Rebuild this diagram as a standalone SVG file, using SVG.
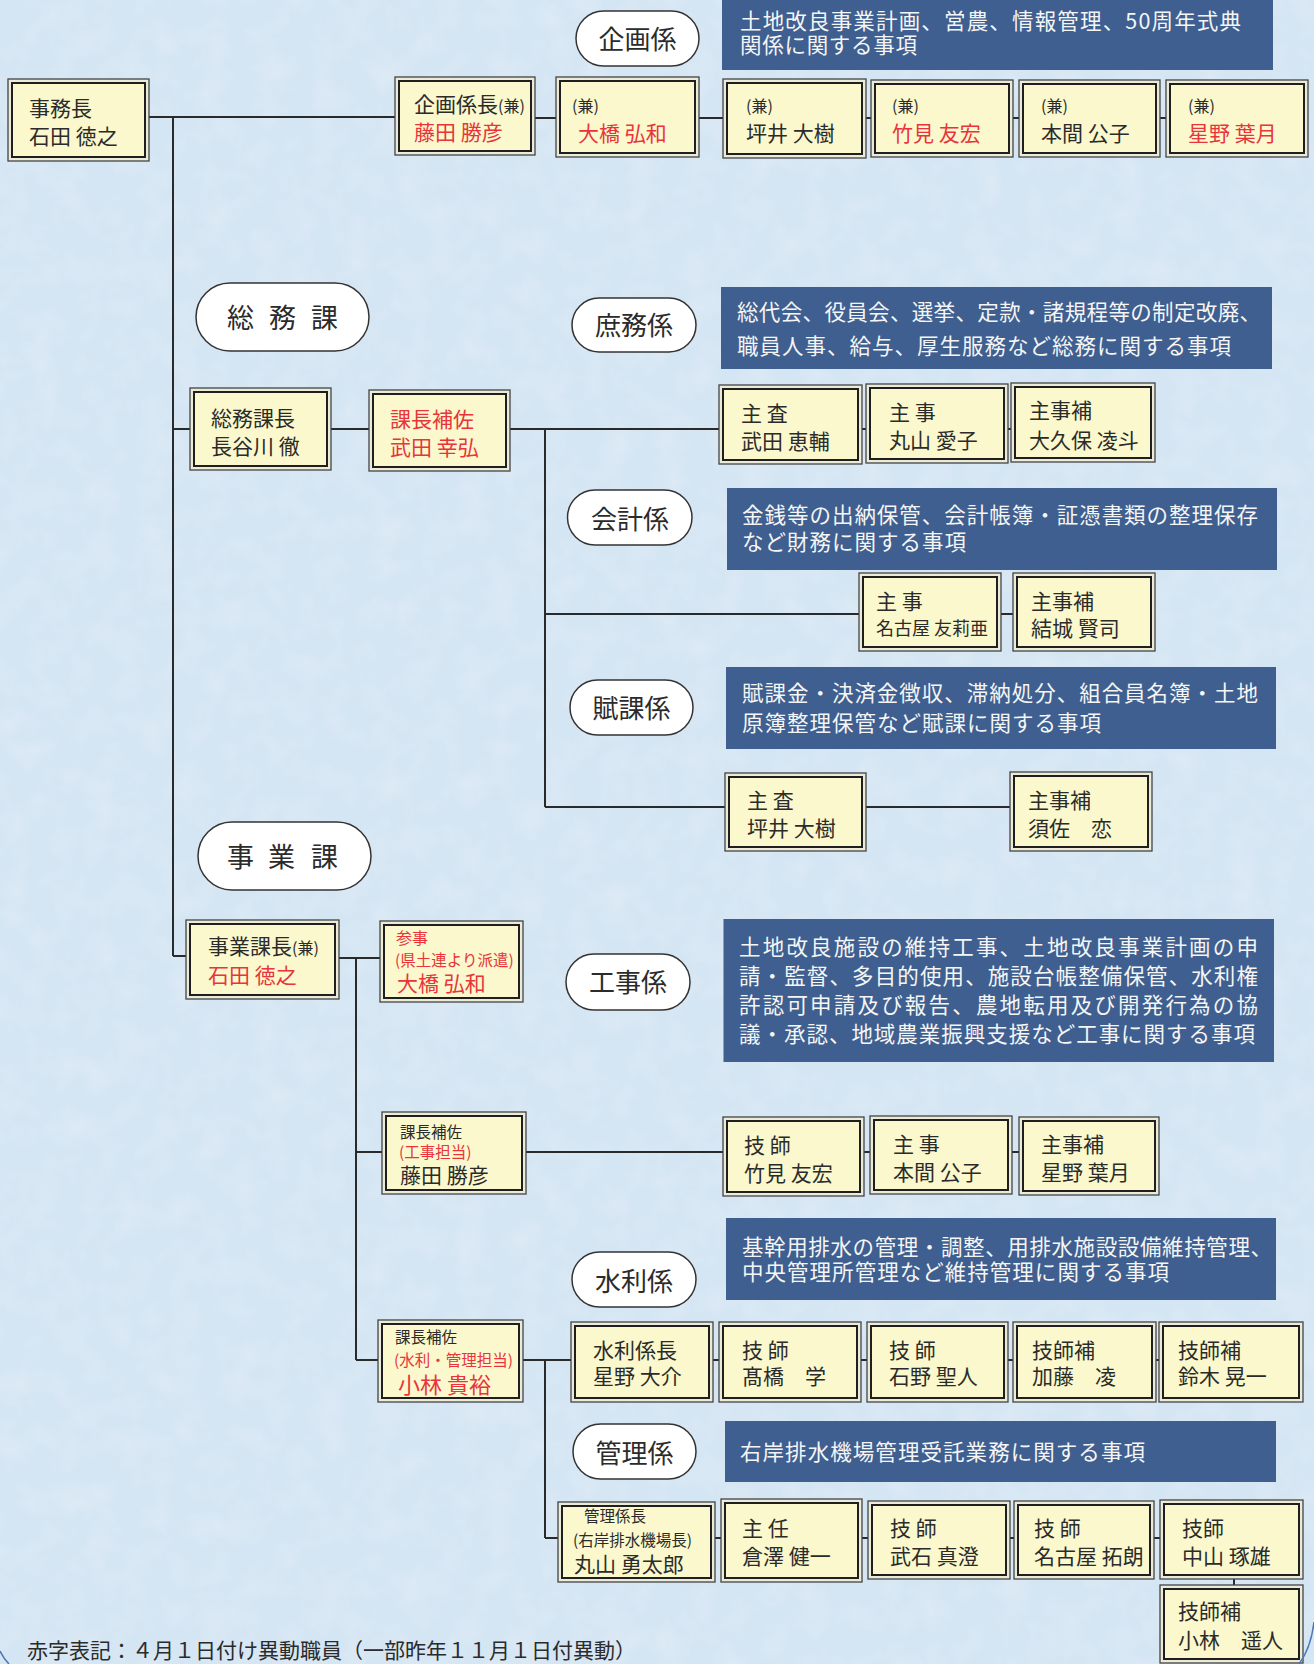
<svg xmlns="http://www.w3.org/2000/svg" width="1314" height="1664" viewBox="0 0 1314 1664">
<defs>
<style>
.bo{fill:#ecebda;stroke:#444;stroke-width:1.3}
.bi{fill:#faf8cc;stroke:#1f1f1f;stroke-width:2}
text{font-family:"Noto Sans CJK JP","Noto Sans CJK SC",sans-serif}
.t{font-size:21px;fill:#2b2b2b}
.r{fill:#e8343a}
.s{font-size:15.5px}
.k{font-size:16px}
.ov{fill:#ffffff;stroke:#333;stroke-width:1.5}
.ot{font-size:26px;fill:#2b2b2b;text-anchor:middle}
.bt{font-size:27px;fill:#2b2b2b}
.d{fill:#3e5f8f}
.dt{font-size:21.5px;fill:#f5f5f5}
.c{stroke:#2a2a2a;stroke-width:2;fill:none}
</style>
<filter id="tex" x="0" y="0" width="100%" height="100%">
<feTurbulence type="fractalNoise" baseFrequency="0.035" numOctaves="3" seed="4"/>
<feColorMatrix type="matrix" values="0 0 0 0 1  0 0 0 0 1  0 0 0 0 1  0 0 0 0.5 -0.18"/>
</filter>
</defs>
<rect width="1314" height="1664" fill="#d4e5f3"/>
<rect width="1314" height="1664" filter="url(#tex)" opacity="0.7"/>

<g id="connectors">
<path class="c" d="M149 117H395 M173 117V956 M173 429H190 M173 956H186 M535 118H556 M699 118H723 M866 118H871 M1013 118H1019 M1160 118H1166 M331 429H369 M510 429H719 M862 429H866 M1008 429H1011 M545 429V807 M545 614H859 M1001 614H1013 M545 807H725 M866 807H1010 M339 958H380 M356 958V1360 M356 1152H382 M526 1152H723 M864 1152H870 M1012 1152H1019 M356 1360H378 M523 1360H571 M545 1360V1538 M545 1538H558 M713 1360H719 M861 1360H867 M1008 1360H1013 M1156 1360H1159 M715 1538H721 M862 1538H868 M1010 1538H1014 M1154 1538H1160 M1234 1579V1585"/>
</g>

<!-- section ovals -->
<g id="oval-kikaku"><rect class="ov" x="576" y="11" width="123" height="55" rx="27.5"/><text class="ot" x="637.5" y="49">企画係</text></g>
<g id="oval-somuka"><rect class="ov" x="196" y="283" width="173" height="68" rx="34"/><text class="bt" x="227 269 311" y="328">総務課</text></g>
<g id="oval-shomu"><rect class="ov" x="572" y="298" width="124" height="54" rx="27"/><text class="ot" x="634" y="335">庶務係</text></g>
<g id="oval-kaikei"><rect class="ov" x="567.5" y="490" width="124.5" height="55" rx="27.5"/><text class="ot" x="630" y="529">会計係</text></g>
<g id="oval-fuka"><rect class="ov" x="570" y="680" width="123" height="55" rx="27.5"/><text class="ot" x="631.5" y="718">賦課係</text></g>
<g id="oval-jigyoka"><rect class="ov" x="198" y="822" width="173" height="68" rx="34"/><text class="bt" x="227 268 311" y="867">事業課</text></g>
<g id="oval-koji"><rect class="ov" x="566" y="954" width="124" height="56" rx="28"/><text class="ot" x="628" y="992">工事係</text></g>
<g id="oval-suiri"><rect class="ov" x="572" y="1252" width="124" height="55" rx="27.5"/><text class="ot" x="634" y="1291">水利係</text></g>
<g id="oval-kanri"><rect class="ov" x="573" y="1424" width="123" height="55" rx="27.5"/><text class="ot" x="634.5" y="1463">管理係</text></g>

<!-- description boxes -->
<g id="desc-kikaku"><rect class="d" x="722" y="0" width="551" height="70"/>
<text class="dt" x="740" y="29" textLength="501">土地改良事業計画、営農、情報管理、50周年式典</text>
<text class="dt" x="740" y="53" textLength="177">関係に関する事項</text></g>
<g id="desc-shomu"><rect class="d" x="721" y="287" width="551" height="82"/>
<text class="dt" x="737" y="319.5" textLength="524">総代会、役員会、選挙、定款・諸規程等の制定改廃、</text>
<text class="dt" x="737" y="353.5" textLength="494">職員人事、給与、厚生服務など総務に関する事項</text></g>
<g id="desc-kaikei"><rect class="d" x="727" y="488" width="550" height="82"/>
<text class="dt" x="742" y="523" textLength="516">金銭等の出納保管、会計帳簿・証憑書類の整理保存</text>
<text class="dt" x="742" y="549.5" textLength="224">など財務に関する事項</text></g>
<g id="desc-fuka"><rect class="d" x="726" y="667" width="550" height="82"/>
<text class="dt" x="742" y="701" textLength="516">賦課金・決済金徴収、滞納処分、組合員名簿・土地</text>
<text class="dt" x="742" y="731" textLength="359">原簿整理保管など賦課に関する事項</text></g>
<g id="desc-koji"><rect class="d" x="723.5" y="919" width="550.5" height="143"/>
<text class="dt" x="739" y="955" textLength="519">土地改良施設の維持工事、土地改良事業計画の申</text>
<text class="dt" x="739" y="984" textLength="519">請・監督、多目的使用、施設台帳整備保管、水利権</text>
<text class="dt" x="739" y="1013" textLength="519">許認可申請及び報告、農地転用及び開発行為の協</text>
<text class="dt" x="739" y="1042" textLength="516">議・承認、地域農業振興支援など工事に関する事項</text></g>
<g id="desc-suiri"><rect class="d" x="726" y="1218" width="550" height="82"/>
<text class="dt" x="742" y="1255" textLength="530">基幹用排水の管理・調整、用排水施設設備維持管理、</text>
<text class="dt" x="742" y="1280" textLength="427">中央管理所管理など維持管理に関する事項</text></g>
<g id="desc-kanri"><rect class="d" x="725" y="1421" width="551" height="61"/>
<text class="dt" x="740" y="1460" textLength="405">右岸排水機場管理受託業務に関する事項</text></g>

<!-- nodes -->
<g id="n-jimucho"><rect class="bo" x="8" y="79" width="141" height="82"/><rect class="bi" x="12" y="83" width="133" height="74"/>
<text class="t" x="29" y="116">事務長</text><text class="t" x="29" y="144">石田 徳之</text></g>
<g id="n-kikaku-cho"><rect class="bo" x="395" y="77" width="140" height="78"/><rect class="bi" x="399" y="81" width="132" height="70"/>
<text class="t" x="414" y="112">企画係長<tspan class="k">(兼)</tspan></text><text class="t r" x="414" y="140">藤田 勝彦</text></g>
<g id="n-ohashi1"><rect class="bo" x="556" y="77" width="143" height="80"/><rect class="bi" x="560" y="81" width="135" height="72"/>
<text class="t k" x="572" y="112">(兼)</text><text class="t r" x="578" y="141">大橋 弘和</text></g>
<g id="n-tsuboi1"><rect class="bo" x="723" y="79" width="143" height="79"/><rect class="bi" x="727" y="83" width="135" height="71"/>
<text class="t k" x="746" y="112">(兼)</text><text class="t" x="746" y="141">坪井 大樹</text></g>
<g id="n-takemi1"><rect class="bo" x="871" y="80" width="142" height="77"/><rect class="bi" x="875" y="84" width="134" height="69"/>
<text class="t k" x="892" y="112">(兼)</text><text class="t r" x="892" y="141">竹見 友宏</text></g>
<g id="n-homma1"><rect class="bo" x="1019" y="80" width="141" height="77"/><rect class="bi" x="1023" y="84" width="133" height="69"/>
<text class="t k" x="1041" y="112">(兼)</text><text class="t" x="1041" y="141">本間 公子</text></g>
<g id="n-hoshino1"><rect class="bo" x="1166" y="80" width="142" height="77"/><rect class="bi" x="1170" y="84" width="134" height="69"/>
<text class="t k" x="1188" y="112">(兼)</text><text class="t r" x="1188" y="141">星野 葉月</text></g>

<g id="n-somu-cho"><rect class="bo" x="190" y="388" width="141" height="82"/><rect class="bi" x="194" y="392" width="133" height="74"/>
<text class="t" x="211" y="426">総務課長</text><text class="t" x="211" y="454">長谷川 徹</text></g>
<g id="n-takeda-y"><rect class="bo" x="369" y="390" width="141" height="81"/><rect class="bi" x="373" y="394" width="133" height="73"/>
<text class="t r" x="390" y="427">課長補佐</text><text class="t r" x="390" y="455">武田 幸弘</text></g>
<g id="n-takeda-k"><rect class="bo" x="719" y="385" width="143" height="79"/><rect class="bi" x="723" y="389" width="135" height="71"/>
<text class="t" x="741" y="421">主 査</text><text class="t" x="741" y="449">武田 恵輔</text></g>
<g id="n-maruyama-a"><rect class="bo" x="866" y="384" width="142" height="79"/><rect class="bi" x="870" y="388" width="134" height="71"/>
<text class="t" x="889" y="420">主 事</text><text class="t" x="889" y="448">丸山 愛子</text></g>
<g id="n-okubo"><rect class="bo" x="1011" y="383" width="144" height="79"/><rect class="bi" x="1015" y="387" width="136" height="71"/>
<text class="t" x="1029" y="418">主事補</text><text class="t" x="1029" y="448">大久保 凌斗</text></g>

<g id="n-nagoya-y"><rect class="bo" x="859" y="573" width="142" height="78"/><rect class="bi" x="863" y="577" width="134" height="70"/>
<text class="t" x="876" y="609">主 事</text><text class="t" x="876" y="635" style="font-size:18px">名古屋 友莉亜</text></g>
<g id="n-yuki"><rect class="bo" x="1013" y="573" width="142" height="78"/><rect class="bi" x="1017" y="577" width="134" height="70"/>
<text class="t" x="1031" y="609">主事補</text><text class="t" x="1031" y="636">結城 賢司</text></g>

<g id="n-tsuboi2"><rect class="bo" x="725" y="773" width="141" height="78"/><rect class="bi" x="729" y="777" width="133" height="70"/>
<text class="t" x="747" y="808">主 査</text><text class="t" x="747" y="836">坪井 大樹</text></g>
<g id="n-susa"><rect class="bo" x="1010" y="772" width="142" height="79"/><rect class="bi" x="1014" y="776" width="134" height="71"/>
<text class="t" x="1028" y="808">主事補</text><text class="t" x="1028" y="836">須佐　恋</text></g>

<g id="n-jigyo-cho"><rect class="bo" x="186" y="920" width="153" height="79"/><rect class="bi" x="190" y="924" width="145" height="71"/>
<text class="t" x="208" y="954">事業課長<tspan class="k">(兼)</tspan></text><text class="t r" x="208" y="983">石田 徳之</text></g>
<g id="n-sanji"><rect class="bo" x="380" y="921" width="143" height="81"/><rect class="bi" x="384" y="925" width="135" height="73"/>
<text class="t r k" x="396" y="944">参事</text><text class="t r s" x="395" y="966">(県土連より派遣)</text><text class="t r" x="397" y="991">大橋 弘和</text></g>

<g id="n-fujita2"><rect class="bo" x="382" y="1112" width="144" height="82"/><rect class="bi" x="386" y="1116" width="136" height="74"/>
<text class="t s" x="400" y="1138">課長補佐</text><text class="t r s" x="399" y="1158">(工事担当)</text><text class="t" x="400" y="1183">藤田 勝彦</text></g>
<g id="n-takemi2"><rect class="bo" x="723" y="1117" width="141" height="79"/><rect class="bi" x="727" y="1121" width="133" height="71"/>
<text class="t" x="744" y="1153">技 師</text><text class="t" x="744" y="1181">竹見 友宏</text></g>
<g id="n-homma2"><rect class="bo" x="870" y="1116" width="142" height="78"/><rect class="bi" x="874" y="1120" width="134" height="70"/>
<text class="t" x="893" y="1152">主 事</text><text class="t" x="893" y="1180">本間 公子</text></g>
<g id="n-hoshino2"><rect class="bo" x="1019" y="1117" width="140" height="78"/><rect class="bi" x="1023" y="1121" width="132" height="70"/>
<text class="t" x="1041" y="1152">主事補</text><text class="t" x="1041" y="1180">星野 葉月</text></g>

<g id="n-kobayashi-t"><rect class="bo" x="378" y="1320" width="145" height="82"/><rect class="bi" x="382" y="1324" width="137" height="74"/>
<text class="t s" x="395" y="1343">課長補佐</text><text class="t r s" x="394" y="1366">(水利・管理担当)</text><text class="t r" x="398" y="1393" style="font-size:22px">小林 貴裕</text></g>
<g id="n-hoshino-d"><rect class="bo" x="571" y="1322" width="142" height="80"/><rect class="bi" x="575" y="1326" width="134" height="72"/>
<text class="t" x="593" y="1358">水利係長</text><text class="t" x="593" y="1384">星野 大介</text></g>
<g id="n-takahashi"><rect class="bo" x="719" y="1322" width="142" height="80"/><rect class="bi" x="723" y="1326" width="134" height="72"/>
<text class="t" x="742" y="1358">技 師</text><text class="t" x="742" y="1384">髙橋　学</text></g>
<g id="n-ishino"><rect class="bo" x="867" y="1322" width="141" height="80"/><rect class="bi" x="871" y="1326" width="133" height="72"/>
<text class="t" x="889" y="1358">技 師</text><text class="t" x="889" y="1384">石野 聖人</text></g>
<g id="n-kato"><rect class="bo" x="1013" y="1322" width="143" height="80"/><rect class="bi" x="1017" y="1326" width="135" height="72"/>
<text class="t" x="1032" y="1358">技師補</text><text class="t" x="1032" y="1384">加藤　凌</text></g>
<g id="n-suzuki"><rect class="bo" x="1159" y="1322" width="144" height="80"/><rect class="bi" x="1163" y="1326" width="136" height="72"/>
<text class="t" x="1178" y="1358">技師補</text><text class="t" x="1178" y="1384">鈴木 晃一</text></g>

<g id="n-maruyama-y"><rect class="bo" x="558" y="1502" width="157" height="80"/><rect class="bi" x="562" y="1506" width="149" height="72"/>
<text class="t s" x="584" y="1522">管理係長</text><text class="t s" x="573" y="1546">(右岸排水機場長)</text><text class="t" x="574" y="1572">丸山 勇太郎</text></g>
<g id="n-kurasawa"><rect class="bo" x="721" y="1499" width="141" height="83"/><rect class="bi" x="725" y="1503" width="133" height="75"/>
<text class="t" x="742" y="1536">主 任</text><text class="t" x="742" y="1564">倉澤 健一</text></g>
<g id="n-takeishi"><rect class="bo" x="868" y="1501" width="142" height="78"/><rect class="bi" x="872" y="1505" width="134" height="70"/>
<text class="t" x="890" y="1536">技 師</text><text class="t" x="890" y="1564">武石 真澄</text></g>
<g id="n-nagoya-t"><rect class="bo" x="1014" y="1501" width="140" height="78"/><rect class="bi" x="1018" y="1505" width="132" height="70"/>
<text class="t" x="1034" y="1536">技 師</text><text class="t" x="1034" y="1564">名古屋 拓朗</text></g>
<g id="n-nakayama"><rect class="bo" x="1160" y="1500" width="143" height="79"/><rect class="bi" x="1164" y="1504" width="135" height="71"/>
<text class="t" x="1182" y="1536">技師</text><text class="t" x="1182" y="1564">中山 琢雄</text></g>
<g id="n-kobayashi-h"><rect class="bo" x="1160" y="1585" width="143" height="78"/><rect class="bi" x="1164" y="1589" width="135" height="70"/>
<text class="t" x="1178" y="1619">技師補</text><text class="t" x="1178" y="1648">小林　遥人</text></g>

<text class="t" x="27" y="1658">赤字表記：４月１日付け異動職員（一部昨年１１月１日付異動）</text>
<path d="M0 1651 Q4 1659 9 1664 M1314 1622 Q1311 1648 1299 1664" fill="none" stroke="#4a78b8" stroke-width="1.5"/>
</svg>
